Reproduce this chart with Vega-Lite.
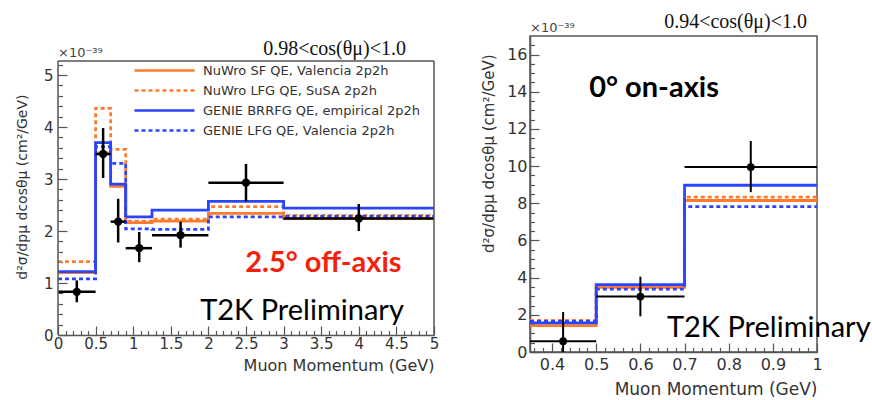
{
  "$schema": "https://vega.github.io/schema/vega-lite/v6.json",
  "background": "white",
  "padding": {"left": 15, "top": 11, "right": 0, "bottom": 0},
  "spacing": 40,
  "config": {
    "font": "DejaVu Sans",
    "view": {"stroke": "#555", "strokeWidth": 1.5},
    "axis": {"domainColor": "#555", "domainWidth": 1.5, "tickColor": "#555", "tickWidth": 1.2, "labelColor": "#333", "titleColor": "#333", "grid": false, "labelFont": "DejaVu Sans", "titleFont": "DejaVu Sans", "titleFontWeight": "normal", "labelFlush": false, "labelOverlap": false},
    "title": {"font": "Liberation Serif", "fontWeight": "normal", "color": "#111"}
  },
  "datasets": {
    "hist": [
      {"p": "L", "m": "NuWro SF QE, Valencia 2p2h", "x": 0, "y": 1.2},
      {"p": "L", "m": "NuWro SF QE, Valencia 2p2h", "x": 0.5, "y": 3.5},
      {"p": "L", "m": "NuWro SF QE, Valencia 2p2h", "x": 0.7, "y": 2.86},
      {"p": "L", "m": "NuWro SF QE, Valencia 2p2h", "x": 0.9, "y": 2.16},
      {"p": "L", "m": "NuWro SF QE, Valencia 2p2h", "x": 1.25, "y": 2.19},
      {"p": "L", "m": "NuWro SF QE, Valencia 2p2h", "x": 2, "y": 2.34},
      {"p": "L", "m": "NuWro SF QE, Valencia 2p2h", "x": 3, "y": 2.24},
      {"p": "L", "m": "NuWro SF QE, Valencia 2p2h", "x": 5, "y": 2.24},
      {"p": "L", "m": "NuWro LFG QE, SuSA 2p2h", "x": 0, "y": 1.41},
      {"p": "L", "m": "NuWro LFG QE, SuSA 2p2h", "x": 0.5, "y": 4.36},
      {"p": "L", "m": "NuWro LFG QE, SuSA 2p2h", "x": 0.7, "y": 3.57},
      {"p": "L", "m": "NuWro LFG QE, SuSA 2p2h", "x": 0.9, "y": 2.19},
      {"p": "L", "m": "NuWro LFG QE, SuSA 2p2h", "x": 1.25, "y": 2.23},
      {"p": "L", "m": "NuWro LFG QE, SuSA 2p2h", "x": 2, "y": 2.47},
      {"p": "L", "m": "NuWro LFG QE, SuSA 2p2h", "x": 3, "y": 2.3},
      {"p": "L", "m": "NuWro LFG QE, SuSA 2p2h", "x": 5, "y": 2.3},
      {"p": "L", "m": "GENIE LFG QE, Valencia 2p2h", "x": 0, "y": 1.08},
      {"p": "L", "m": "GENIE LFG QE, Valencia 2p2h", "x": 0.5, "y": 3.62},
      {"p": "L", "m": "GENIE LFG QE, Valencia 2p2h", "x": 0.7, "y": 3.3},
      {"p": "L", "m": "GENIE LFG QE, Valencia 2p2h", "x": 0.9, "y": 2.04},
      {"p": "L", "m": "GENIE LFG QE, Valencia 2p2h", "x": 1.25, "y": 2.03},
      {"p": "L", "m": "GENIE LFG QE, Valencia 2p2h", "x": 2, "y": 2.27},
      {"p": "L", "m": "GENIE LFG QE, Valencia 2p2h", "x": 3, "y": 2.28},
      {"p": "L", "m": "GENIE LFG QE, Valencia 2p2h", "x": 5, "y": 2.28},
      {"p": "L", "m": "GENIE BRRFG QE, empirical 2p2h", "x": 0, "y": 1.22},
      {"p": "L", "m": "GENIE BRRFG QE, empirical 2p2h", "x": 0.5, "y": 3.7},
      {"p": "L", "m": "GENIE BRRFG QE, empirical 2p2h", "x": 0.7, "y": 2.9},
      {"p": "L", "m": "GENIE BRRFG QE, empirical 2p2h", "x": 0.9, "y": 2.27},
      {"p": "L", "m": "GENIE BRRFG QE, empirical 2p2h", "x": 1.25, "y": 2.4},
      {"p": "L", "m": "GENIE BRRFG QE, empirical 2p2h", "x": 2, "y": 2.57},
      {"p": "L", "m": "GENIE BRRFG QE, empirical 2p2h", "x": 3, "y": 2.44},
      {"p": "L", "m": "GENIE BRRFG QE, empirical 2p2h", "x": 5, "y": 2.44},
      {"p": "R", "m": "NuWro SF QE, Valencia 2p2h", "x": 0.35, "y": 1.42},
      {"p": "R", "m": "NuWro SF QE, Valencia 2p2h", "x": 0.5, "y": 3.48},
      {"p": "R", "m": "NuWro SF QE, Valencia 2p2h", "x": 0.7, "y": 8.15},
      {"p": "R", "m": "NuWro SF QE, Valencia 2p2h", "x": 1.0, "y": 8.15},
      {"p": "R", "m": "NuWro LFG QE, SuSA 2p2h", "x": 0.35, "y": 1.7},
      {"p": "R", "m": "NuWro LFG QE, SuSA 2p2h", "x": 0.5, "y": 3.52},
      {"p": "R", "m": "NuWro LFG QE, SuSA 2p2h", "x": 0.7, "y": 8.33},
      {"p": "R", "m": "NuWro LFG QE, SuSA 2p2h", "x": 1.0, "y": 8.33},
      {"p": "R", "m": "GENIE LFG QE, Valencia 2p2h", "x": 0.35, "y": 1.65},
      {"p": "R", "m": "GENIE LFG QE, Valencia 2p2h", "x": 0.5, "y": 3.38},
      {"p": "R", "m": "GENIE LFG QE, Valencia 2p2h", "x": 0.7, "y": 7.82},
      {"p": "R", "m": "GENIE LFG QE, Valencia 2p2h", "x": 1.0, "y": 7.82},
      {"p": "R", "m": "GENIE BRRFG QE, empirical 2p2h", "x": 0.35, "y": 1.57},
      {"p": "R", "m": "GENIE BRRFG QE, empirical 2p2h", "x": 0.5, "y": 3.63},
      {"p": "R", "m": "GENIE BRRFG QE, empirical 2p2h", "x": 0.7, "y": 8.97},
      {"p": "R", "m": "GENIE BRRFG QE, empirical 2p2h", "x": 1.0, "y": 8.97}
    ],
    "pts": [
      {"p": "L", "x": 0.25, "xlo": 0, "xhi": 0.5, "y": 0.83, "ylo": 0.63, "yhi": 1.05},
      {"p": "L", "x": 0.6, "xlo": 0.5, "xhi": 0.7, "y": 3.48, "ylo": 3.02, "yhi": 3.98},
      {"p": "L", "x": 0.8, "xlo": 0.7, "xhi": 0.9, "y": 2.18, "ylo": 1.78, "yhi": 2.62},
      {"p": "L", "x": 1.08, "xlo": 0.9, "xhi": 1.25, "y": 1.67, "ylo": 1.4, "yhi": 1.98},
      {"p": "L", "x": 1.63, "xlo": 1.25, "xhi": 2.0, "y": 1.92, "ylo": 1.68, "yhi": 2.18},
      {"p": "L", "x": 2.5, "xlo": 2.0, "xhi": 3.0, "y": 2.93, "ylo": 2.57, "yhi": 3.29},
      {"p": "L", "x": 4.0, "xlo": 3.0, "xhi": 5.0, "y": 2.24, "ylo": 2.0, "yhi": 2.52},
      {"p": "R", "x": 0.425, "xlo": 0.35, "xhi": 0.5, "y": 0.58, "ylo": -1.0, "yhi": 2.15},
      {"p": "R", "x": 0.6, "xlo": 0.5, "xhi": 0.7, "y": 2.98, "ylo": 1.92, "yhi": 4.05},
      {"p": "R", "x": 0.85, "xlo": 0.7, "xhi": 1.0, "y": 9.95, "ylo": 8.6, "yhi": 11.35}
    ],
    "notes": [
      {"p": "L", "k": "exp", "x": 0, "y": 5.27, "t": "×10⁻³⁹"},
      {"p": "R", "k": "exp", "x": 0.35, "y": 17, "t": "×10⁻³⁹"},
      {"p": "L", "k": "label", "x": 2.49, "y": 1.22, "t": "2.5° off-axis"},
      {"p": "R", "k": "label", "x": 0.484, "y": 13.7, "t": "0° on-axis"},
      {"p": "L", "k": "t2k", "x": 1.89, "y": 0.29, "t": "T2K Preliminary"},
      {"p": "R", "k": "t2k", "x": 0.66, "y": 0.82, "t": "T2K Preliminary"}
    ]
  },
  "resolve": {"legend": {"color": "independent", "strokeDash": "independent"}},
  "hconcat": [
    {
      "width": 376,
      "height": 299,
      "view": {"stroke": null},
      "title": {"text": "0.98<cos(θμ)<1.0", "anchor": "end", "frame": "group", "dx": -28, "fontSize": 20, "offset": -23},
      "resolve": {"axis": {"x": "independent", "y": "independent"}},
      "layer": [
        {
          "data": {"name": "hist"},
          "transform": [{"filter": "datum.p === 'L'"}],
          "mark": {"type": "line", "interpolate": "step-after", "strokeWidth": 2.8},
          "encoding": {
            "x": {"field": "x", "type": "quantitative", "scale": {"domain": [0, 5], "nice": false, "zero": false},
              "axis": {"orient": "bottom", "values": [0, 0.5, 1, 1.5, 2, 2.5, 3, 3.5, 4, 4.5, 5], "format": "~g", "tickSize": -9, "labelPadding": 10, "labelFontSize": 15, "title": "Muon Momentum (GeV)", "titleAnchor": "end", "titleFontSize": 16, "titlePadding": 6}},
            "y": {"field": "y", "type": "quantitative", "scale": {"domain": [0, 5.75], "nice": false, "zero": false},
              "axis": {"orient": "left", "values": [0, 1, 2, 3, 4, 5], "domain": false, "tickSize": -9, "labelPadding": 14, "labelFontSize": 15, "title": "d²σ/dpμ dcosθμ (cm²/GeV)", "titleAnchor": "end", "titleAlign": "right", "titleY": 58, "titleFontSize": 14, "titlePadding": 14}},
            "color": {"field": "m", "type": "nominal",
              "scale": {"domain": ["NuWro SF QE, Valencia 2p2h", "NuWro LFG QE, SuSA 2p2h", "GENIE BRRFG QE, empirical 2p2h", "GENIE LFG QE, Valencia 2p2h"], "range": ["#ff7a2e", "#ff7a2e", "#2b45ff", "#2b45ff"]},
              "legend": {"title": null, "orient": "none", "legendX": 100, "legendY": 28, "symbolType": "M-6,0H6", "symbolSize": 100, "symbolStrokeWidth": 2.5, "labelFontSize": 13, "labelColor": "#333", "labelLimit": 320, "rowPadding": 6, "labelOffset": 32}},
            "strokeDash": {"field": "m", "type": "nominal",
              "scale": {"domain": ["NuWro SF QE, Valencia 2p2h", "NuWro LFG QE, SuSA 2p2h", "GENIE BRRFG QE, empirical 2p2h", "GENIE LFG QE, Valencia 2p2h"], "range": [[1, 0], [4, 3], [1, 0], [4, 3]]},
              "legend": {"title": null, "orient": "none", "legendX": 100, "legendY": 28, "symbolType": "M-6,0H6", "symbolSize": 100, "symbolStrokeWidth": 2.5, "labelFontSize": 13, "labelColor": "#333", "labelLimit": 320, "rowPadding": 6, "labelOffset": 32}}
          }
        },
        {
          "data": {"name": "pts"},
          "transform": [{"filter": "datum.p === 'L'"}],
          "mark": {"type": "rule", "color": "black", "strokeWidth": 2.5},
          "encoding": {
            "x": {"field": "xlo", "type": "quantitative", "scale": {"domain": [0, 5], "nice": false, "zero": false},
              "axis": {"orient": "bottom", "values": [0.1, 0.2, 0.3, 0.4, 0.6, 0.7, 0.8, 0.9, 1.1, 1.2, 1.3, 1.4, 1.6, 1.7, 1.8, 1.9, 2.1, 2.2, 2.3, 2.4, 2.6, 2.7, 2.8, 2.9, 3.1, 3.2, 3.3, 3.4, 3.6, 3.7, 3.8, 3.9, 4.1, 4.2, 4.3, 4.4, 4.6, 4.7, 4.8, 4.9], "tickSize": -4.5, "labels": false, "domain": false, "title": null}},
            "x2": {"field": "xhi"},
            "y": {"field": "y", "type": "quantitative", "scale": {"domain": [0, 5.75], "nice": false, "zero": false},
              "axis": {"orient": "left", "values": [0.2, 0.4, 0.6, 0.8, 1.2, 1.4, 1.6, 1.8, 2.2, 2.4, 2.6, 2.8, 3.2, 3.4, 3.6, 3.8, 4.2, 4.4, 4.6, 4.8, 5.2], "tickSize": -4.5, "labels": false, "domain": false, "title": null}}
          }
        },
        {
          "data": {"name": "pts"},
          "transform": [{"filter": "datum.p === 'L'"}],
          "mark": {"type": "rule", "color": "black", "strokeWidth": 2.5},
          "encoding": {
            "x": {"field": "x", "type": "quantitative", "scale": {"domain": [0, 5], "nice": false, "zero": false}, "axis": null},
            "y": {"field": "ylo", "type": "quantitative", "scale": {"domain": [0, 5.75], "nice": false, "zero": false}, "axis": null},
            "y2": {"field": "yhi"}
          }
        },
        {
          "data": {"name": "pts"},
          "transform": [{"filter": "datum.p === 'L'"}],
          "mark": {"type": "circle", "color": "black", "opacity": 1, "size": 70},
          "encoding": {
            "x": {"field": "x", "type": "quantitative", "scale": {"domain": [0, 5], "nice": false, "zero": false}, "axis": null},
            "y": {"field": "y", "type": "quantitative", "scale": {"domain": [0, 5.75], "nice": false, "zero": false}, "axis": null}
          }
        },
        {
          "data": {"values": [{}]},
          "mark": {"type": "rule", "color": "#555", "strokeWidth": 1.5},
          "encoding": {
            "x": {"datum": 0, "type": "quantitative", "scale": {"domain": [0, 5], "nice": false, "zero": false}, "axis": null},
            "y": {"datum": 0, "type": "quantitative", "scale": {"domain": [0, 5.75], "nice": false, "zero": false}, "axis": null},
            "y2": {"datum": 5.27}
          }
        },
        {
          "data": {"values": [{}]},
          "mark": {"type": "rule", "color": "#555", "strokeWidth": 1.5},
          "encoding": {
            "x": {"datum": 5, "type": "quantitative", "scale": {"domain": [0, 5], "nice": false, "zero": false}, "axis": null},
            "y": {"datum": 0, "type": "quantitative", "scale": {"domain": [0, 5.75], "nice": false, "zero": false}, "axis": null},
            "y2": {"datum": 5.27}
          }
        },
        {
          "data": {"values": [{}]},
          "mark": {"type": "rule", "color": "#555", "strokeWidth": 1.5},
          "encoding": {
            "x": {"datum": 0, "type": "quantitative", "scale": {"domain": [0, 5], "nice": false, "zero": false}, "axis": null},
            "x2": {"datum": 5},
            "y": {"datum": 5.27, "type": "quantitative", "scale": {"domain": [0, 5.75], "nice": false, "zero": false}, "axis": null}
          }
        },
        {
          "data": {"name": "notes"},
          "transform": [{"filter": "datum.p === 'L' && datum.k === 'exp'"}],
          "mark": {"type": "text", "font": "DejaVu Sans", "fontSize": 13, "color": "#444", "align": "left", "baseline": "alphabetic", "dy": -4},
          "encoding": {
            "x": {"field": "x", "type": "quantitative", "scale": {"domain": [0, 5], "nice": false, "zero": false}, "axis": null},
            "y": {"field": "y", "type": "quantitative", "scale": {"domain": [0, 5.75], "nice": false, "zero": false}, "axis": null},
            "text": {"field": "t"}
          }
        },
        {
          "data": {"name": "notes"},
          "transform": [{"filter": "datum.p === 'L' && datum.k === 'label'"}],
          "mark": {"type": "text", "font": "Lato", "fontWeight": "bold", "fontSize": 29, "color": "#f5200a", "align": "left", "baseline": "alphabetic"},
          "encoding": {
            "x": {"field": "x", "type": "quantitative", "scale": {"domain": [0, 5], "nice": false, "zero": false}, "axis": null},
            "y": {"field": "y", "type": "quantitative", "scale": {"domain": [0, 5.75], "nice": false, "zero": false}, "axis": null},
            "text": {"field": "t"}
          }
        },
        {
          "data": {"name": "notes"},
          "transform": [{"filter": "datum.p === 'L' && datum.k === 't2k'"}],
          "mark": {"type": "text", "font": "Lato", "fontSize": 29, "color": "black", "align": "left", "baseline": "alphabetic"},
          "encoding": {
            "x": {"field": "x", "type": "quantitative", "scale": {"domain": [0, 5], "nice": false, "zero": false}, "axis": null},
            "y": {"field": "y", "type": "quantitative", "scale": {"domain": [0, 5.75], "nice": false, "zero": false}, "axis": null},
            "text": {"field": "t"}
          }
        }
      ]
    },
    {
      "width": 287,
      "height": 316,
      "title": {"text": "0.94<cos(θμ)<1.0", "anchor": "end", "frame": "group", "dx": -10, "fontSize": 20, "offset": -10},
      "resolve": {"axis": {"x": "independent", "y": "independent"}},
      "layer": [
        {
          "data": {"name": "hist"},
          "transform": [{"filter": "datum.p === 'R'"}],
          "mark": {"type": "line", "interpolate": "step-after", "strokeWidth": 2.8},
          "encoding": {
            "x": {"field": "x", "type": "quantitative", "scale": {"domain": [0.35, 1.0], "nice": false, "zero": false},
              "axis": {"orient": "bottom", "values": [0.4, 0.5, 0.6, 0.7, 0.8, 0.9, 1.0], "format": "~g", "tickSize": -9, "labelPadding": 13, "labelFontSize": 16, "title": "Muon Momentum (GeV)", "titleAnchor": "end", "titleFontSize": 17, "titlePadding": 9}},
            "y": {"field": "y", "type": "quantitative", "scale": {"domain": [0, 17], "nice": false, "zero": false},
              "axis": {"orient": "left", "values": [0, 2, 4, 6, 8, 10, 12, 14, 16], "tickSize": -9, "labelPadding": 12, "labelFontSize": 16, "title": "d²σ/dpμ dcosθμ (cm²/GeV)", "titleAnchor": "end", "titleAlign": "right", "titleY": 18, "titleFontSize": 15, "titlePadding": 10}},
            "color": {"field": "m", "type": "nominal",
              "scale": {"domain": ["NuWro SF QE, Valencia 2p2h", "NuWro LFG QE, SuSA 2p2h", "GENIE BRRFG QE, empirical 2p2h", "GENIE LFG QE, Valencia 2p2h"], "range": ["#ff7a2e", "#ff7a2e", "#2b45ff", "#2b45ff"]},
              "legend": null},
            "strokeDash": {"field": "m", "type": "nominal",
              "scale": {"domain": ["NuWro SF QE, Valencia 2p2h", "NuWro LFG QE, SuSA 2p2h", "GENIE BRRFG QE, empirical 2p2h", "GENIE LFG QE, Valencia 2p2h"], "range": [[1, 0], [4, 3], [1, 0], [4, 3]]},
              "legend": null}
          }
        },
        {
          "data": {"name": "pts"},
          "transform": [{"filter": "datum.p === 'R'"}],
          "mark": {"type": "rule", "color": "black", "strokeWidth": 2},
          "encoding": {
            "x": {"field": "xlo", "type": "quantitative", "scale": {"domain": [0.35, 1.0], "nice": false, "zero": false},
              "axis": {"orient": "bottom", "values": [0.36, 0.38, 0.42, 0.44, 0.46, 0.48, 0.52, 0.54, 0.56, 0.58, 0.62, 0.64, 0.66, 0.68, 0.72, 0.74, 0.76, 0.78, 0.82, 0.84, 0.86, 0.88, 0.92, 0.94, 0.96, 0.98], "tickSize": -4.5, "labels": false, "domain": false, "title": null}},
            "x2": {"field": "xhi"},
            "y": {"field": "y", "type": "quantitative", "scale": {"domain": [0, 17], "nice": false, "zero": false},
              "axis": {"orient": "left", "values": [0.5, 1, 1.5, 2.5, 3, 3.5, 4.5, 5, 5.5, 6.5, 7, 7.5, 8.5, 9, 9.5, 10.5, 11, 11.5, 12.5, 13, 13.5, 14.5, 15, 15.5, 16.5], "tickSize": -4.5, "labels": false, "domain": false, "title": null}}
          }
        },
        {
          "data": {"name": "pts"},
          "transform": [{"filter": "datum.p === 'R'"}],
          "mark": {"type": "rule", "color": "black", "strokeWidth": 2, "clip": true},
          "encoding": {
            "x": {"field": "x", "type": "quantitative", "scale": {"domain": [0.35, 1.0], "nice": false, "zero": false}, "axis": null},
            "y": {"field": "ylo", "type": "quantitative", "scale": {"domain": [0, 17], "nice": false, "zero": false}, "axis": null},
            "y2": {"field": "yhi"}
          }
        },
        {
          "data": {"name": "pts"},
          "transform": [{"filter": "datum.p === 'R'"}],
          "mark": {"type": "circle", "color": "black", "opacity": 1, "size": 60},
          "encoding": {
            "x": {"field": "x", "type": "quantitative", "scale": {"domain": [0.35, 1.0], "nice": false, "zero": false}, "axis": null},
            "y": {"field": "y", "type": "quantitative", "scale": {"domain": [0, 17], "nice": false, "zero": false}, "axis": null}
          }
        },
        {
          "data": {"name": "notes"},
          "transform": [{"filter": "datum.p === 'R' && datum.k === 'exp'"}],
          "mark": {"type": "text", "font": "DejaVu Sans", "fontSize": 13, "color": "#444", "align": "left", "baseline": "alphabetic", "dy": -4},
          "encoding": {
            "x": {"field": "x", "type": "quantitative", "scale": {"domain": [0.35, 1.0], "nice": false, "zero": false}, "axis": null},
            "y": {"field": "y", "type": "quantitative", "scale": {"domain": [0, 17], "nice": false, "zero": false}, "axis": null},
            "text": {"field": "t"}
          }
        },
        {
          "data": {"name": "notes"},
          "transform": [{"filter": "datum.p === 'R' && datum.k === 'label'"}],
          "mark": {"type": "text", "font": "Lato", "fontWeight": "bold", "fontSize": 29, "color": "black", "align": "left", "baseline": "alphabetic"},
          "encoding": {
            "x": {"field": "x", "type": "quantitative", "scale": {"domain": [0.35, 1.0], "nice": false, "zero": false}, "axis": null},
            "y": {"field": "y", "type": "quantitative", "scale": {"domain": [0, 17], "nice": false, "zero": false}, "axis": null},
            "text": {"field": "t"}
          }
        },
        {
          "data": {"name": "notes"},
          "transform": [{"filter": "datum.p === 'R' && datum.k === 't2k'"}],
          "mark": {"type": "text", "font": "Lato", "fontSize": 29, "color": "black", "align": "left", "baseline": "alphabetic"},
          "encoding": {
            "x": {"field": "x", "type": "quantitative", "scale": {"domain": [0.35, 1.0], "nice": false, "zero": false}, "axis": null},
            "y": {"field": "y", "type": "quantitative", "scale": {"domain": [0, 17], "nice": false, "zero": false}, "axis": null},
            "text": {"field": "t"}
          }
        }
      ]
    }
  ]
}
